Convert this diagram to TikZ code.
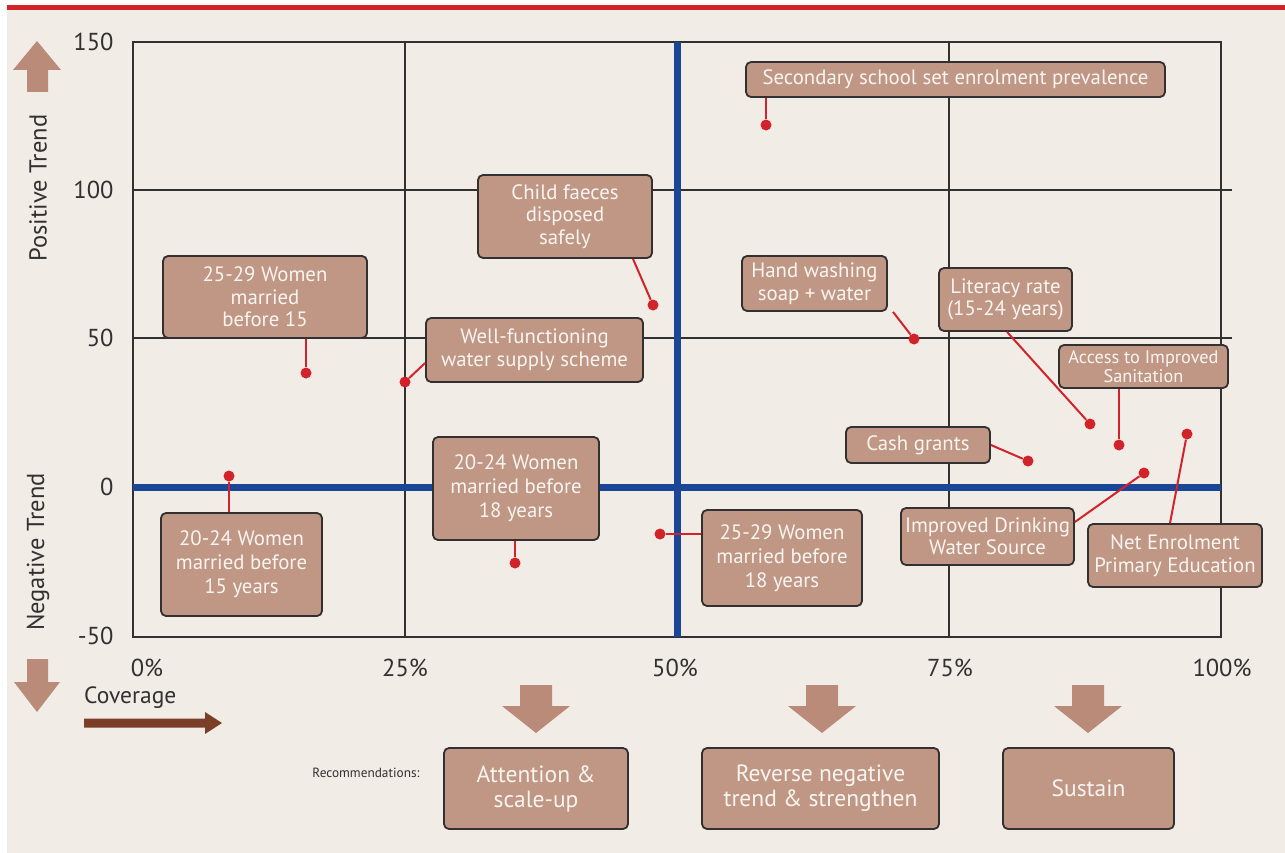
\documentclass[tikz,border=0pt]{standalone}
\usepackage{fontspec}
\setmainfont{PT Sans}
\usetikzlibrary{positioning,calc}

\definecolor{paper}{RGB}{242,236,231}
\definecolor{ink}{RGB}{50,48,48}
\definecolor{boxfill}{RGB}{192,150,132}
\definecolor{fatfill}{RGB}{185,139,120}
\definecolor{dotred}{RGB}{210,35,42}
\definecolor{navy}{RGB}{27,69,150}
\definecolor{rust}{RGB}{123,63,39}
\definecolor{boxtext}{RGB}{250,245,241}

\begin{document}
\begin{tikzpicture}[
x=1pt,
y=-1pt,
grid/.style={
  draw=ink,
  line width=1.1pt
  },
axis/.style={
  draw=navy,
  line width=7pt
  },
tag/.style={
  draw=ink,
  fill=boxfill,
  rounded corners=5pt,
  line width=1.8pt,
  text=boxtext,
  align=center,
  inner sep=2pt,
  font=\fontsize{20.8}{22.5}\selectfont
  },
rec/.style={
  tag,
  minimum height=81,
  font=\fontsize{23.5}{25}\selectfont
  },
dot/.style={
  circle,
  fill=dotred,
  inner sep=0pt,
  minimum size=11
  },
lead/.style={
  draw=dotred,
  line width=2pt
  },
tick/.style={
  text=ink,
  font=\fontsize{24.5}{24.5}\selectfont
  },
fat/.style={
  fill=fatfill
  }
]
\useasboundingbox (0,0) rectangle (1285,853);
\fill[paper] (7,10) rectangle (1285,853);
\fill[dotred] (7,5) rectangle (1285,10);

% grid and the two axes
\draw[grid] (133,42) rectangle (1221,637);
\foreach \gx in {405,949}
  \draw[grid] (\gx,42) -- (\gx,637);
\foreach \gy in {190,338}
  \draw[grid] (133,\gy) -- (1232,\gy);
\draw[axis] (677,42) -- (677,637);
\draw[axis] (133,487) -- (1221,487);

\foreach \val/\yy in {150/42,100/190,50/338,0/487,-50/636}
  \node[tick, anchor=east] (y\val) at (117,\yy) {\val};
\foreach \val/\xx in {0/147,25/405,50/675,75/950,100/1222}
  \node[tick] (x\val) at (\xx,668) {\val\%};

\node[tick, rotate=90] (pos) at (38,188) {Positive Trend};
\node[tick, rotate=90] (neg) at (38,552) {Negative Trend};
\node[tick, font=\fontsize{23.5}{23.5}\selectfont, anchor=west, inner sep=0pt] (cov) at (84,698) {Coverage};

% big arrows
\fill[fat] (27,92) -- (27,70) -- (13,70) -- (37,41) -- (61,70) -- (48,70) -- (48,92) -- cycle;
\fill[fat] (27,659) -- (27,682) -- (14,682) -- (37,712) -- (60,682) -- (48,682) -- (48,659) -- cycle;
\fill[rust] (84,718.5) -- (205,718.5) -- (205,712) -- (222,723) -- (205,734) -- (205,727.5) -- (84,727.5) -- cycle;
\foreach \cx in {536,822,1088}
  \fill[fat] ({\cx-16},685) -- ({\cx-16},706) -- ({\cx-34},706) -- (\cx,733)
    -- ({\cx+34},706) -- ({\cx+16},706) -- ({\cx+16},685) -- cycle;

% indicator boxes
\node[tag, minimum width=419, minimum height=35] (sec) at (955.5,79.5)
  {Secondary school set enrolment prevalence};
\node[tag, minimum width=174, minimum height=83] (faeces) at (565,216.5)
  {Child faeces\\disposed\\safely};
\node[tag, minimum width=217, minimum height=64] (wells) at (534.5,350)
  {Well-functioning\\water supply scheme};
\node[tag, minimum width=204, minimum height=82] (w2915) at (265,297)
  {25-29 Women\\married\\before 15};
\node[tag, minimum width=161, minimum height=103, font=\fontsize{20.8}{24}\selectfont] (w2415) at (241.5,564.5)
  {20-24 Women\\married before\\15 years};
\node[tag, minimum width=166, minimum height=103, font=\fontsize{20.8}{24}\selectfont] (w2418) at (516,488.5)
  {20-24 Women\\married before\\18 years};
\node[tag, minimum width=160, minimum height=96, font=\fontsize{20.8}{24}\selectfont] (w2918) at (782,558)
  {25-29 Women\\married before\\18 years};
\node[tag, minimum width=145, minimum height=55] (hand) at (814.5,283.5)
  {Hand washing\\soap + water};
\node[tag, minimum width=133, minimum height=63] (lit) at (1005.5,299.5)
  {Literacy rate\\(15-24 years)};
\node[tag, minimum width=169, minimum height=43, font=\fontsize{18.3}{19}\selectfont] (san) at (1143.5,366.5)
  {Access to Improved\\Sanitation};
\node[tag, minimum width=144, minimum height=36] (cash) at (918,445)
  {Cash grants};
\node[tag, minimum width=173, minimum height=57] (drink) at (987.5,536.5)
  {Improved Drinking\\Water Source};
\node[tag, minimum width=174, minimum height=63] (net) at (1175,555.5)
  {Net Enrolment\\Primary Education};

% data points
\node[dot] (dsec) at (766,125) {};
\node[dot] (dfaeces) at (653,305) {};
\node[dot] (dwells) at (405,382) {};
\node[dot] (dw2915) at (306,373) {};
\node[dot] (dw2415) at (229,476) {};
\node[dot] (dw2418) at (515,563) {};
\node[dot] (dw2918) at (660,534) {};
\node[dot] (dhand) at (914,339) {};
\node[dot] (dlit) at (1090,424) {};
\node[dot] (dsan) at (1119,445) {};
\node[dot] (dcash) at (1028,461) {};
\node[dot] (ddrink) at (1144,473) {};
\node[dot] (dnet) at (1187,434) {};

\draw[lead] (dsec |- sec.south) -- (dsec);
\draw[lead] ([xshift=68]faeces.south) -- (dfaeces);
\draw[lead] ([yshift=-13]wells.west) -- (dwells);
\draw[lead] (dw2915 |- w2915.south) -- (dw2915);
\draw[lead] (dw2415 |- w2415.north) -- (dw2415);
\draw[lead] (dw2418 |- w2418.south) -- (dw2418);
\draw[lead] (dw2918 -| w2918.west) -- (dw2918);
\draw[lead] ([xshift=78.5]hand.south) -- (dhand);
\draw[lead] ([xshift=1.5]lit.south) -- (dlit);
\draw[lead] (dsan |- san.south) -- (dsan);
\draw[lead] (cash.east) -- (dcash);
\draw[lead] ([yshift=14.5]drink.east) -- (ddrink);
\draw[lead] ([xshift=-5]net.north) -- (dnet);

% recommendations
\node[text=ink, font=\fontsize{13.3}{13.3}\selectfont] (recs) at (366,773) {Recommendations:};
\node[rec, minimum width=184] (attend) at (536,788.5) {Attention \&\\scale-up};
\node[rec, minimum width=237] (reverse) at (820.5,788.5) {Reverse negative\\trend \& strengthen};
\node[rec, minimum width=171] (sustain) at (1088.5,788.5) {Sustain};
\end{tikzpicture}
\end{document}
